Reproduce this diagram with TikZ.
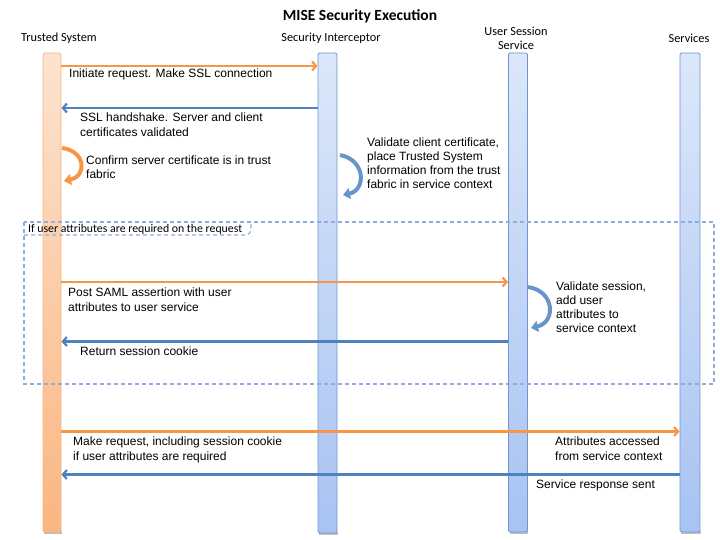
\documentclass[tikz,border=0pt]{standalone}
\usepackage{fontspec}
\setmainfont{Liberation Sans}
\newfontfamily\hdr{Carlito}
\usetikzlibrary{arrows.meta,calc}
\definecolor{orng}{HTML}{F79646}
\definecolor{orngT}{HTML}{FDE3CF}
\definecolor{orngB}{HTML}{FAB681}
\definecolor{blu}{HTML}{4F81BD}
\definecolor{bluE}{HTML}{6E96D2}
\definecolor{bluT}{HTML}{DCE7FA}
\definecolor{bluB}{HTML}{A8C3F2}
\definecolor{dashc}{HTML}{8EADDC}
\tikzset{
  lifebar/.style={draw=bluE, line width=0.9pt, rounded corners=1.5pt, top color=bluT, bottom color=bluB, minimum width=19pt, inner sep=0pt},
  tsbar/.style={draw=orng!70, line width=0.9pt, rounded corners=1.5pt, top color=orngT, bottom color=orngB, minimum width=18pt, inner sep=0pt},
  omsg/.style={draw=orng, line width=2.2pt, -{Straight Barb[length=4pt,width=9pt]}},
  bmsg/.style={draw=blu, line width=2.2pt, -{Straight Barb[length=4pt,width=9pt]}},
  lbl/.style={font=\fontsize{12}{14.2}\selectfont, align=left, inner sep=0pt, anchor=north west},
  hd/.style={font=\hdr\fontsize{12.3}{13.5}\selectfont, align=center, inner sep=0pt},
  selfo/.style={draw=orng, line width=4pt, -{Triangle[length=7pt,width=11pt]}},
  selfb/.style={draw=blu!85, line width=4pt, -{Triangle[length=7pt,width=11pt]}},
}
\begin{document}
\begin{tikzpicture}[x=1pt,y=-1pt]
\useasboundingbox (0,0) rectangle (720,540);
% title and headers
\node[font=\hdr\bfseries\fontsize{15.5}{18}\selectfont] (title) at (360,16) {MISE Security Execution};
\node[hd] (hts) at (59,38.5) {Trusted System};
\node[hd] (hsi) at (331,38.5) {Security Interceptor};
\node[hd] (hus) at (516,38.5) {User Session\\Service};
\node[hd] (hsv) at (689,38.5) {Services};
% lifelines
\fill[black!25] (44,531) rectangle (62,533.5);
\fill[black!25] (319,532) rectangle (338,534.5);
\fill[black!25] (510,531) rectangle (528,533.5);
\fill[black!25] (681,531) rectangle (701,533.5);
\node[tsbar, minimum height=479pt] (ts) at (52,292.5) {};
\node[lifebar, minimum height=480pt] (si) at (327.5,293) {};
\node[lifebar, minimum height=479pt] (us) at (518,292.5) {};
\node[lifebar, minimum height=479pt, minimum width=20pt] (sv) at (690,292.5) {};
% alt frame
\draw[dashc, line width=1.2pt, dash pattern=on 4pt off 3pt] (24,222) rectangle (714,384);
\draw[dashc, line width=1.2pt, dash pattern=on 4pt off 3pt] (24,235) -- (245,235) to[out=0,in=-90] (251,229) -- (251,222);
\node[font=\hdr\fontsize{11.8}{13}\selectfont, anchor=west, inner sep=0pt] (frm) at (28,229) {If user attributes are required on the request};
% y coordinates of messages
\coordinate (m1) at (0,66);
\coordinate (m2) at (0,108);
\coordinate (m3) at (0,282);
\coordinate (m4) at (0,341.5);
\coordinate (m5) at (0,431.5);
\coordinate (m6) at (0,474.5);
% messages
\draw[omsg] (ts.east |- m1) -- (si.west |- m1);
\node[lbl] (l1) at (69,69) {Initiate request. Make SSL connection};
\draw[bmsg] (si.west |- m2) -- (ts.east |- m2);
\node[lbl] (l2) at (80,113) {SSL handshake. Server and client\\certificates validated};
\draw[selfo] (62,148) .. controls (86,151) and (87,176) .. (64,181);
\node[lbl] (l3) at (86,155.5) {Confirm server certificate is in trust\\fabric};
\draw[selfb] (340,155) .. controls (366,160) and (366,190) .. (343,195);
\node[lbl] (l4) at (367,137.5) {Validate client certificate,\\place Trusted System\\information from the trust\\fabric in service context};
\draw[omsg] (ts.east |- m3) -- (us.west |- m3);
\node[lbl] (l5) at (68,288) {Post SAML assertion with user\\attributes to user service};
\draw[selfb] (528,287) .. controls (555,291) and (556,322) .. (531,328);
\node[lbl] (l6) at (556,281.5) {Validate session,\\add user\\attributes to\\service context};
\draw[bmsg] (us.west |- m4) -- (ts.east |- m4);
\node[lbl] (l7) at (80,347) {Return session cookie};
\draw[omsg] (ts.east |- m5) -- (sv.west |- m5);
\node[lbl] (l8) at (73,437) {Make request, including session cookie\\if user attributes are required};
\node[lbl] (l9) at (555,437) {Attributes accessed\\from service context};
\draw[bmsg] (sv.west |- m6) -- (ts.east |- m6);
\node[lbl] (l10) at (536,480) {Service response sent};
\end{tikzpicture}
\end{document}
